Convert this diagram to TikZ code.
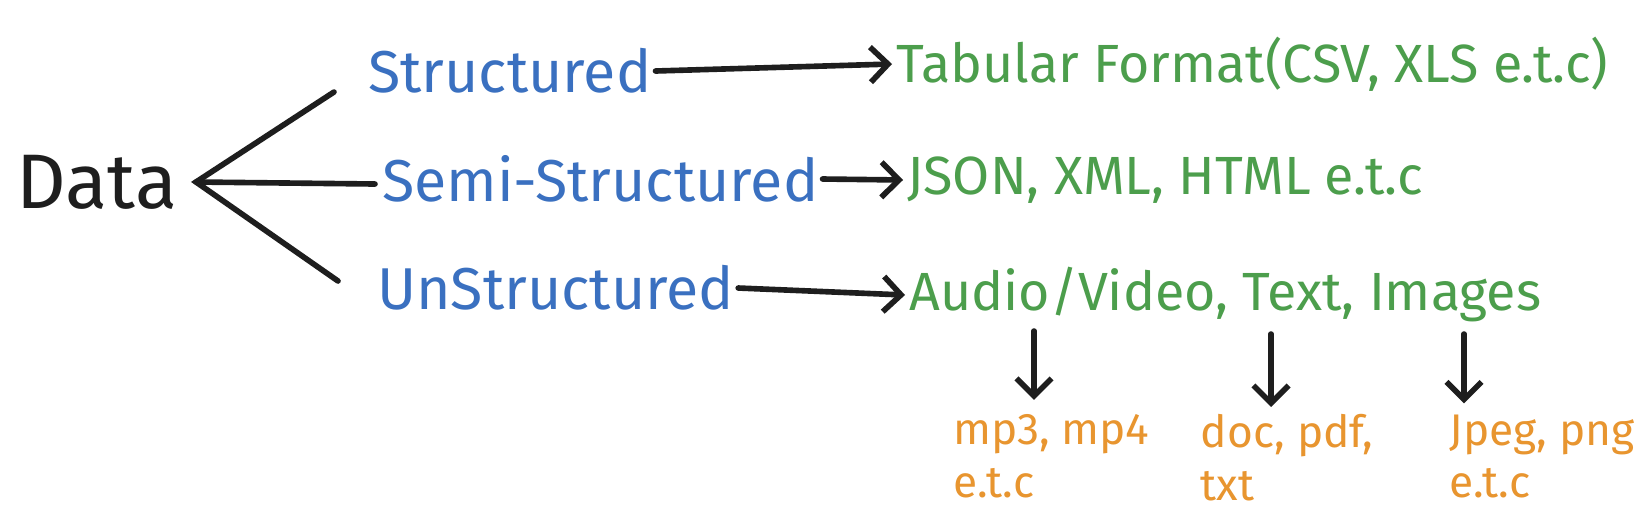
\documentclass[tikz,border=0pt]{standalone}
\usepackage{fontspec}
\setmainfont{Fira Sans}
\usetikzlibrary{arrows.meta}
\definecolor{DInk}{HTML}{1E1E1E}
\definecolor{DBlue}{HTML}{3A70C0}
\definecolor{DGreen}{HTML}{4C9E4C}
\definecolor{DOrange}{HTML}{E8952F}
\begin{document}
\begin{tikzpicture}[x=1cm,y=1cm,
  inklink/.style={DInk,line width=1.6pt,line cap=round},
  inkarrow/.style={inklink,-{Straight Barb[length=5pt,width=10pt]}},
  kind/.style={anchor=west,inner sep=1pt,text=DBlue,font=\fontsize{16.8}{20}\selectfont},
  format/.style={anchor=west,inner sep=1pt,text=DGreen,font=\fontsize{15.3}{18}\selectfont},
  example/.style={anchor=north west,inner sep=0pt,align=left,text=DOrange,font=\fontsize{12.6}{15}\selectfont}]
\path[use as bounding box] (0,0) rectangle (16.46,5.24);
\fill[white] (0,0) rectangle (16.46,5.24);
\node[anchor=west,inner sep=0pt,text=DInk,font=\fontsize{22}{26}\selectfont] (data) at (0.16,3.42) {Data};
\coordinate (fork) at (1.96,3.42);
\coordinate (structtip) at (3.34,4.32);
\coordinate (semitip) at (3.75,3.40);
\coordinate (unstructtip) at (3.38,2.43);
\draw[inklink] (structtip) -- (fork) -- (unstructtip);
\draw[inklink] (fork) -- (semitip);
\node[kind] (structured) at (3.64,4.53) {Structured};
\node[kind] (semi) at (3.78,3.45) {Semi-Structured};
\node[kind] (unstructured) at (3.73,2.36) {UnStructured};
\node[format] (tabular) at (8.92,4.60) {Tabular Format(CSV, XLS e.t.c)};
\node[format] (markup) at (9.03,3.44) {JSON, XML, HTML e.t.c};
\node[format] (media) at (9.05,2.29) {Audio/Video, Text, Images};
\draw[inkarrow] (structured.east) -- (tabular.west);
\draw[inkarrow] (semi.east) -- (markup.west);
\draw[inkarrow] (unstructured.east) -- (media.west);
\node[example] (audiofiles) at (9.53,1.10) {mp3, mp4\\e.t.c};
\node[example] (textfiles) at (12.00,1.10) {doc, pdf,\\txt};
\node[example] (imagefiles) at (14.49,1.10) {Jpeg, png\\e.t.c};
\coordinate (audiodown) at (10.34,1.93);
\coordinate (textdown) at (12.71,1.90);
\coordinate (imagedown) at (14.64,1.90);
\draw[inkarrow,shorten >=4pt] (audiodown) -- (audiodown |- audiofiles.north);
\draw[inkarrow,shorten >=2pt] (textdown) -- (textdown |- textfiles.north);
\draw[inkarrow,shorten >=3pt] (imagedown) -- (imagedown |- imagefiles.north);
\end{tikzpicture}
\end{document}
